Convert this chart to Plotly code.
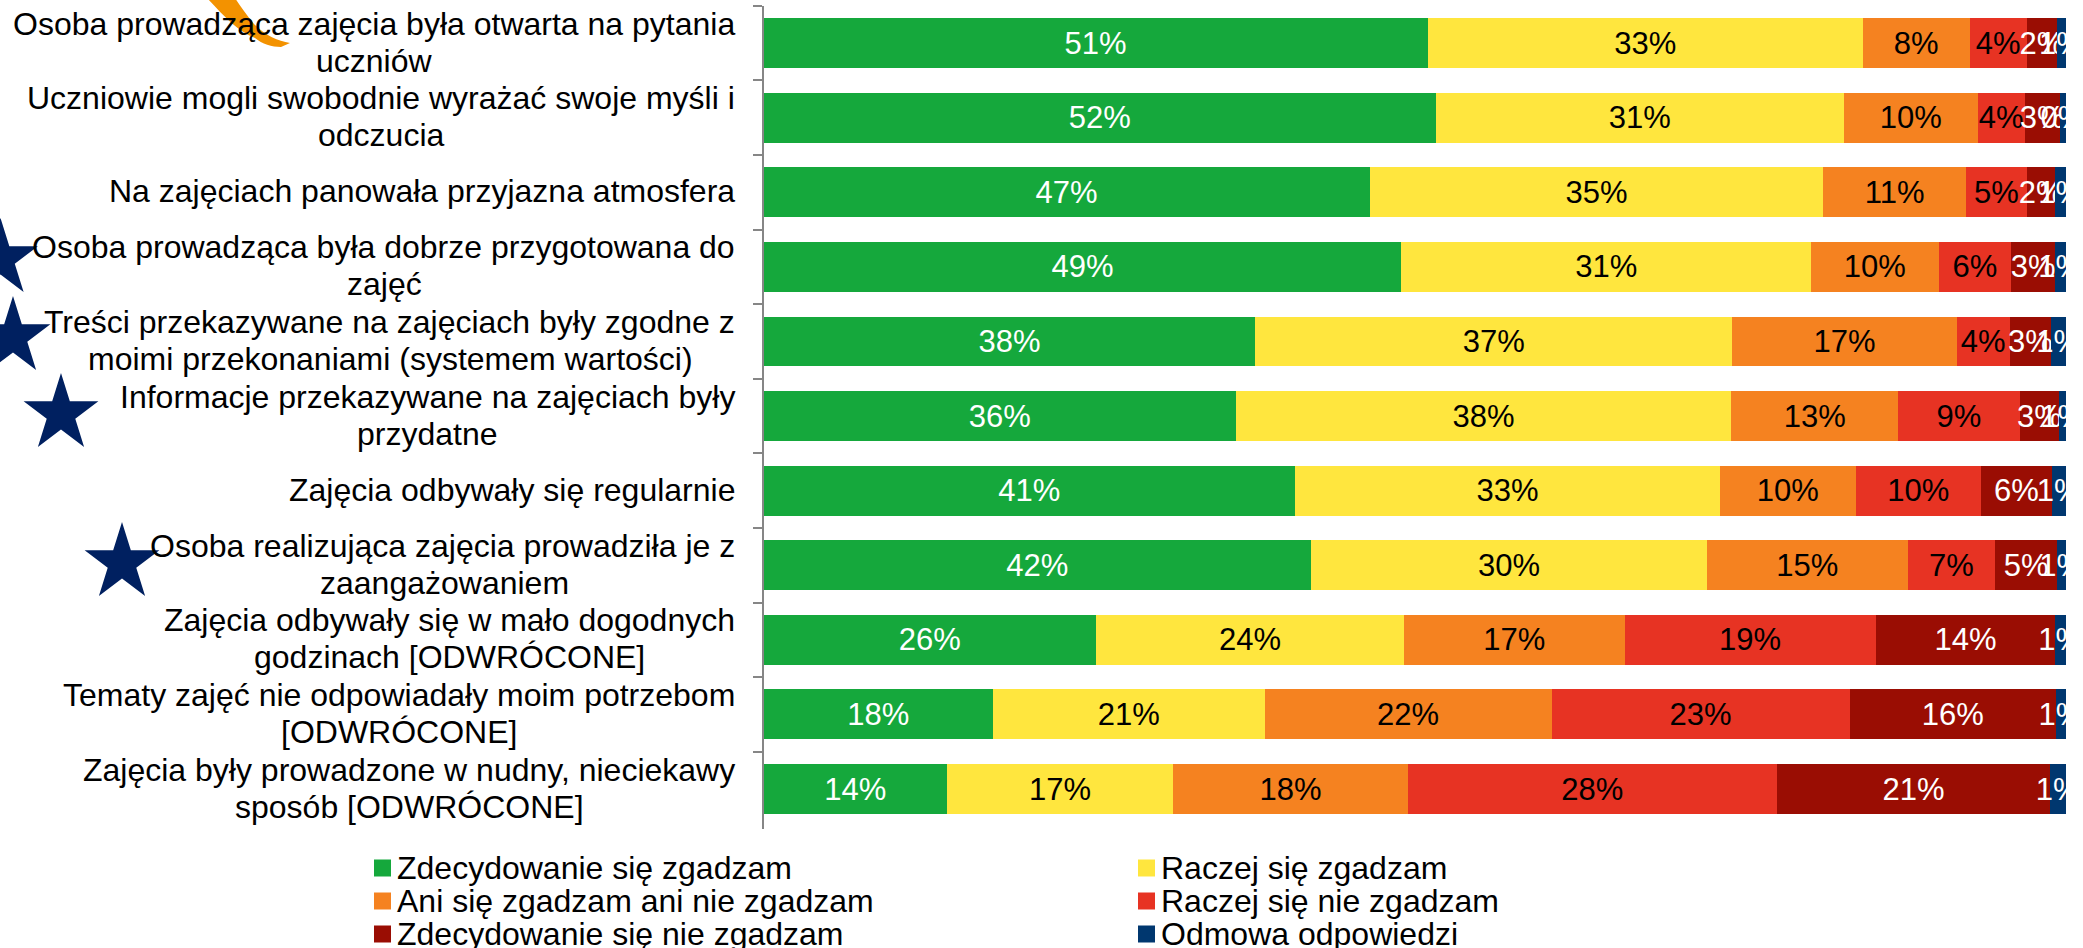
import math
import plotly.graph_objects as go

categories = [
    "Osoba prowadząca zajęcia była otwarta na pytania<br>uczniów",
    "Uczniowie mogli swobodnie wyrażać swoje myśli i<br>odczucia",
    "Na zajęciach panowała przyjazna atmosfera",
    "Osoba prowadząca była dobrze przygotowana do<br>zajęć",
    "Treści przekazywane na zajęciach były zgodne z<br>moimi przekonaniami (systemem wartości)",
    "Informacje przekazywane na zajęciach były<br>przydatne",
    "Zajęcia odbywały się regularnie",
    "Osoba realizująca zajęcia prowadziła je z<br>zaangażowaniem",
    "Zajęcia odbywały się w mało dogodnych<br>godzinach [ODWRÓCONE]",
    "Tematy zajęć nie odpowiadały moim potrzebom<br>[ODWRÓCONE]",
    "Zajęcia były prowadzone w nudny, nieciekawy<br>sposób [ODWRÓCONE]",
]
zdecydowanie_tak = [51.0, 51.63, 46.53, 48.98, 37.76, 36.28, 40.82, 42.04, 25.53, 17.62, 14.09]
raczej_tak = [33.4, 31.3, 34.84, 31.44, 36.62, 38.0, 32.62, 30.38, 23.65, 20.85, 17.35]
ani_ani = [8.2, 10.29, 10.95, 9.8, 17.22, 12.85, 10.41, 15.45, 16.93, 22.03, 18.04]
raczej_nie = [4.4, 3.61, 4.68, 5.56, 4.08, 9.31, 9.6, 6.66, 19.28, 22.89, 28.31]
zdecydowanie_nie = [2.3, 2.68, 2.18, 3.4, 3.19, 3.05, 5.5, 4.81, 13.79, 15.82, 21.01]
odmowa = [0.7, 0.49, 0.82, 0.82, 1.13, 0.51, 1.05, 0.66, 0.82, 0.79, 1.2]

series = [
    ("Zdecydowanie się zgadzam", zdecydowanie_tak, "#15A83C", "white"),
    ("Raczej się zgadzam", raczej_tak, "#FFE63E", "black"),
    ("Ani się zgadzam ani nie zgadzam", ani_ani, "#F58220", "black"),
    ("Raczej się nie zgadzam", raczej_nie, "#E73323", "black"),
    ("Zdecydowanie się nie zgadzam", zdecydowanie_nie, "#9A0D03", "white"),
    ("Odmowa odpowiedzi", odmowa, "#00376F", "white"),
]

W, H = 2083, 948
FONT = "Liberation Sans, Arial, sans-serif"
LABEL_SIZE = 31
CAT_SIZE = 32
LEG_SIZE = 32
# horizontal centre (page pixels) of the second line of each wrapped category label
SECOND_LINE_CENTRE = [374, 381, None, 384, 390, 427, None, 444, 449, 399, 409]
LINE_OFFSET = 18.5
TEXT_RAISE = 1


def px(x):
    return x / W


def py(y):
    return 1 - y / H


fig = go.Figure()
for name, vals, color, tcolor in series:
    fig.add_trace(go.Bar(
        y=categories, x=vals, name=name, orientation="h",
        marker=dict(color=color, line=dict(width=0)),
        texttemplate="%{x:.0f}%", textposition="inside",
        insidetextanchor="middle", textangle=0, constraintext="none",
        insidetextfont=dict(family=FONT, size=LABEL_SIZE, color=tcolor),
        cliponaxis=False, showlegend=False,
    ))

shapes = []


def star(cx, top, rx=39.3, ry=40.9):
    pts = []
    cy = top + ry
    for i in range(10):
        a = math.pi * i / 5
        r = 1 if i % 2 == 0 else 0.382
        pts.append((cx + rx * r * math.sin(a), cy - ry * r * math.cos(a)))
    return "M" + "L".join(f"{px(a):.5f},{py(b):.5f}" for a, b in pts) + "Z"


for cx, top in [(0.5, 218), (13, 296), (61, 373), (122, 522)]:
    shapes.append(dict(type="path", xref="paper", yref="paper", path=star(cx, top),
                       fillcolor="#002060", line=dict(width=0)))


def P(x, y):
    return f"{px(x):.5f},{py(y):.5f}"


swoosh = ("M" + P(207, -2) + "C" + P(222, 14) + " " + P(238, 32) + " " + P(255, 38)
          + "C" + P(262, 44) + " " + P(272, 47) + " " + P(281, 47)
          + "L" + P(290, 43)
          + "C" + P(278, 41) + " " + P(266, 36) + " " + P(254, 24)
          + "C" + P(246, 14) + " " + P(240, 6) + " " + P(235, -2) + "Z")
shapes.append(dict(type="path", xref="paper", yref="paper", path=swoosh,
                   fillcolor="#F39200", line=dict(width=0)))

annotations = []
cat_font = dict(family=FONT, size=CAT_SIZE, color="black")
for c, centre in zip(categories, SECOND_LINE_CENTRE):
    lines = c.split("<br>")
    if len(lines) == 1:
        annotations.append(dict(xref="paper", yref="y", x=px(736.5), y=c, text=c, showarrow=False,
                                xanchor="right", yanchor="middle", yshift=TEXT_RAISE, font=cat_font))
    else:
        annotations.append(dict(xref="paper", yref="y", x=px(736.5), y=c, text=lines[0], showarrow=False,
                                xanchor="right", yanchor="middle", yshift=LINE_OFFSET + TEXT_RAISE, font=cat_font))
        annotations.append(dict(xref="paper", yref="y", x=px(centre), y=c, text=lines[1], showarrow=False,
                                xanchor="center", yanchor="middle", yshift=-LINE_OFFSET + TEXT_RAISE, font=cat_font))

leg_cols = [374, 1138]
leg_rows = [868, 901, 934]
for i, (name, vals, color, tcolor) in enumerate(series):
    x0 = leg_cols[i % 2]
    yc = leg_rows[i // 2]
    shapes.append(dict(type="rect", xref="paper", yref="paper",
                       x0=px(x0), x1=px(x0 + 17), y0=py(yc - 8.5), y1=py(yc + 8.5),
                       fillcolor=color, line=dict(width=0)))
    annotations.append(dict(
        xref="paper", yref="paper", x=px(x0 + 21), y=py(yc), text=name, showarrow=False,
        xanchor="left", yanchor="middle",
        font=dict(family=FONT, size=LEG_SIZE, color="black"),
    ))

fig.update_layout(
    barmode="stack", bargap=0.33,
    width=W, height=H, margin=dict(l=0, r=0, t=0, b=0),
    paper_bgcolor="white", plot_bgcolor="white",
    showlegend=False, shapes=shapes, annotations=annotations,
    font=dict(family=FONT),
    xaxis=dict(domain=[px(763.5), px(2067.3)], range=[0, 100.1], visible=False),
    yaxis=dict(domain=[py(828.5), py(5.7)], autorange="reversed", type="category",
               showticklabels=False, showline=True, linecolor="#868686", linewidth=1.5,
               ticks="outside", ticklen=9, tickcolor="#868686", tickwidth=1.5,
               tickson="boundaries", showgrid=False, zeroline=False),
)
fig.write_html("out.html", post_script="document.body.style.margin='0';",
               config=dict(displayModeBar=False))
